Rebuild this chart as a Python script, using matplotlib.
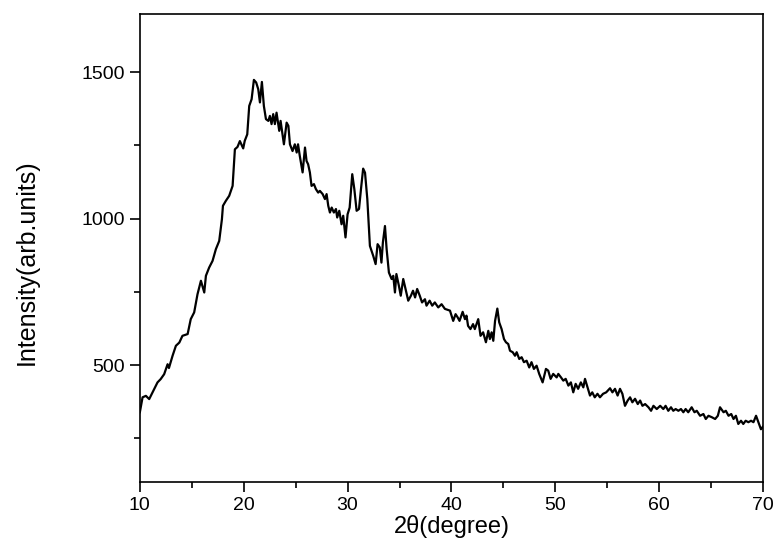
import matplotlib.pyplot as plt
from matplotlib.ticker import MultipleLocator

# XRD pattern
two_theta = [
    10.0, 10.26, 10.58, 10.9, 11.38, 11.7, 12.0, 12.34, 12.67, 12.8, 13.15, 13.47, 13.8, 14.1,
    14.6, 14.9, 15.23, 15.55, 15.88, 16.2, 16.36, 16.67, 17.0, 17.32, 17.64, 17.9, 18.0, 18.28,
    18.6, 18.93, 19.15, 19.4, 19.63, 19.95, 20.1, 20.34, 20.53, 20.76, 20.98, 21.2, 21.4, 21.56,
    21.75, 21.94, 22.14, 22.37, 22.52, 22.68, 22.84, 23.0, 23.16, 23.42, 23.55, 23.87, 24.13,
    24.3, 24.45, 24.7, 24.92, 25.1, 25.23, 25.4, 25.67, 25.9, 26.05, 26.2, 26.37, 26.53, 26.76,
    26.95, 27.17, 27.33, 27.6, 27.82, 27.98, 28.14, 28.3, 28.47, 28.68, 28.88, 29.0, 29.2,
    29.42, 29.58, 29.8, 30.0, 30.2, 30.45, 30.65, 30.87, 31.1, 31.29, 31.5, 31.68, 31.9, 32.15,
    32.47, 32.7, 32.89, 33.1, 33.26, 33.4, 33.6, 33.76, 33.98, 34.24, 34.4, 34.56, 34.7, 34.94,
    35.12, 35.36, 35.58, 35.84, 36.1, 36.3, 36.5, 36.7, 36.95, 37.17, 37.45, 37.6, 37.9, 38.15,
    38.4, 38.73, 39.05, 39.37, 39.86, 40.17, 40.4, 40.6, 40.78, 41.08, 41.3, 41.45, 41.6, 41.83,
    42.08, 42.25, 42.58, 42.8, 43.05, 43.32, 43.55, 43.7, 43.87, 44.03, 44.2, 44.42, 44.6,
    44.83, 45.06, 45.25, 45.47, 45.64, 45.9, 46.12, 46.28, 46.53, 46.76, 46.98, 47.24, 47.49,
    47.71, 47.94, 48.2, 48.45, 48.78, 49.1, 49.32, 49.55, 49.8, 50.13, 50.29, 50.55, 50.77,
    51.0, 51.26, 51.5, 51.73, 51.96, 52.2, 52.46, 52.7, 52.86, 53.1, 53.34, 53.56, 53.8, 54.06,
    54.3, 54.6, 54.9, 55.27, 55.5, 55.75, 56.0, 56.23, 56.46, 56.71, 56.97, 57.2, 57.42, 57.68,
    57.94, 58.17, 58.39, 58.65, 58.97, 59.22, 59.45, 59.77, 60.1, 60.4, 60.62, 60.88, 61.14,
    61.36, 61.59, 61.85, 62.1, 62.33, 62.55, 62.8, 63.13, 63.4, 63.62, 63.94, 64.26, 64.49,
    64.75, 65.07, 65.39, 65.65, 65.86, 66.2, 66.42, 66.68, 66.94, 67.16, 67.39, 67.62, 67.88,
    68.1, 68.33, 68.59, 68.85, 69.08, 69.33, 69.56, 69.8, 70.0,
]
intensity = [
    339, 390, 395, 384, 418, 441, 452, 469, 503, 490, 532, 566, 577, 600,
    606, 657, 680, 742, 788, 748, 805, 833, 856, 896, 924, 998, 1044, 1061,
    1078, 1112, 1237, 1245, 1265, 1240, 1266, 1288, 1385, 1408, 1474, 1465, 1442, 1397,
    1467, 1385, 1340, 1334, 1351, 1323, 1357, 1323, 1362, 1300, 1334, 1254, 1328,
    1317, 1254, 1231, 1254, 1226, 1254, 1214, 1158, 1243, 1197, 1186, 1158, 1112, 1118,
    1101, 1089, 1095, 1084, 1067, 1084, 1044, 1021, 1038, 1021, 1033, 1004, 1027,
    981, 1010, 936, 1015, 1038, 1152, 1101, 1027, 1033, 1101, 1171, 1157, 1067, 907,
    873, 845, 913, 902, 850, 919, 975, 896, 816, 794, 805, 748, 811, 771,
    737, 794, 760, 720, 737, 754, 731, 760, 737, 714, 725, 703, 720, 703,
    714, 697, 708, 692, 686, 651, 674, 663, 651, 682, 657, 669, 634, 623,
    640, 623, 657, 600, 612, 578, 617, 589, 612, 583, 651, 693, 646,
    623, 589, 578, 572, 549, 544, 532, 544, 521, 527, 510, 515, 492,
    510, 487, 498, 470, 441, 487, 481, 453, 470, 458, 470, 458, 447,
    453, 430, 441, 407, 436, 419, 441, 424, 453, 424, 396, 407, 390, 402,
    390, 402, 407, 421, 407, 419, 396, 419, 402, 361, 379, 390, 373, 385,
    367, 379, 361, 367, 356, 344, 361, 350, 361, 350, 361, 344, 356,
    344, 350, 344, 350, 339, 350, 339, 356, 339, 344, 327, 333, 316,
    327, 322, 316, 327, 356, 339, 344, 327, 333, 316, 327, 299, 310,
    299, 310, 305, 310, 305, 327, 305, 281, 290,
]

plt.rcParams["font.family"] = ["Liberation Sans", "DejaVu Sans"]

fig = plt.figure(figsize=(7.77, 5.48), dpi=100)
ax = fig.add_axes([0.180, 0.120, 0.802, 0.855])

ax.plot(two_theta, intensity, color="black", linewidth=1.6)

ax.set_xlim(10, 70)
ax.set_ylim(100, 1700)
ax.xaxis.set_major_locator(MultipleLocator(10))
ax.xaxis.set_minor_locator(MultipleLocator(5))
ax.set_yticks([500, 1000, 1500])
ax.yaxis.set_minor_locator(MultipleLocator(250))

ax.tick_params(axis="both", which="major", direction="out", length=7, width=1.2,
               labelsize=14, top=False, right=False)
ax.tick_params(axis="both", which="minor", direction="out", length=4.5, width=1.2,
               top=False, right=False)
for spine in ax.spines.values():
    spine.set_linewidth(1.2)

ax.set_xlabel("2θ(degree)", fontsize=17, labelpad=1)
ax.set_ylabel("Intensity(arb.units)", fontsize=18)
ax.yaxis.set_label_coords(-0.163, 0.47)

fig.savefig("out.png", dpi=100)
